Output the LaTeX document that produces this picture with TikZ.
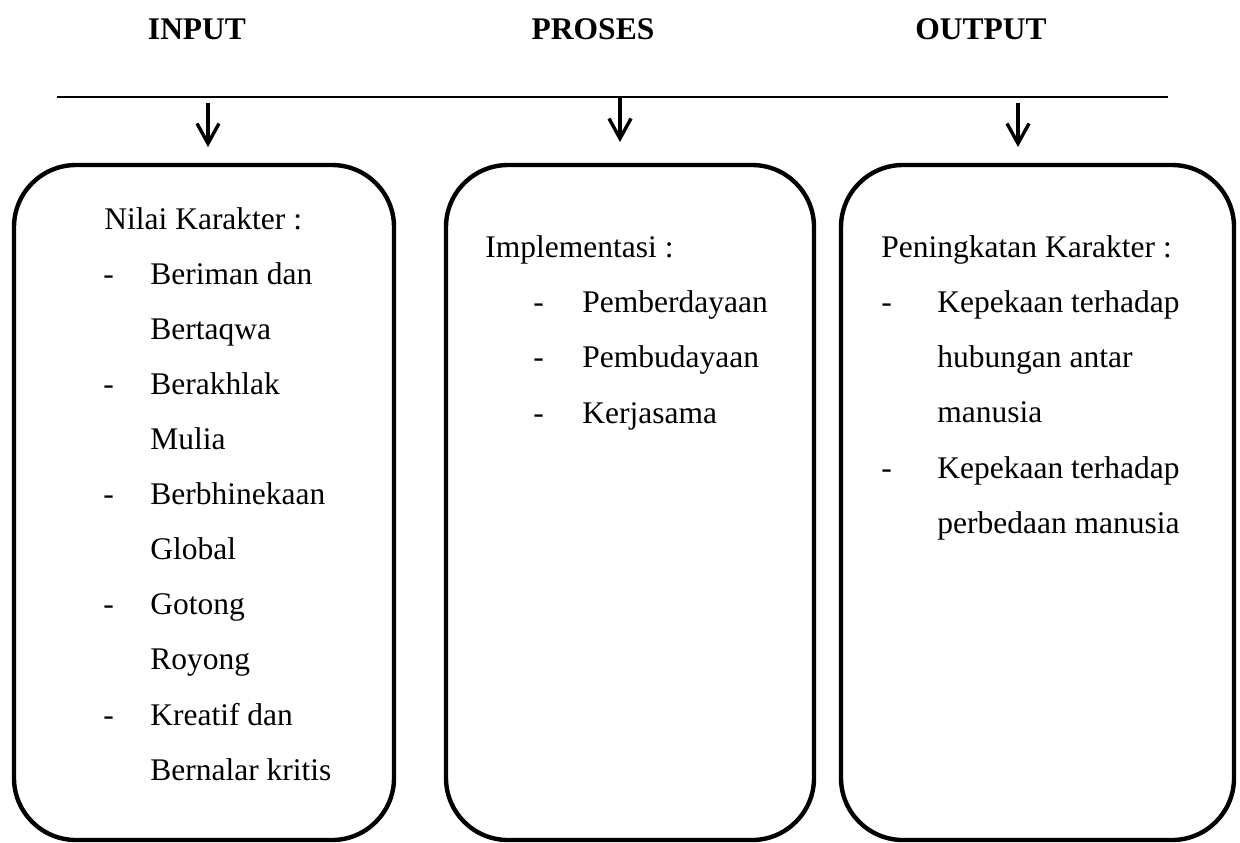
\documentclass[tikz,border=0pt]{standalone}
\usepackage{fontspec}
\setmainfont{Liberation Serif}
\usetikzlibrary{arrows.meta,fit}
\begin{document}
\begin{tikzpicture}[x=0.5pt,y=-0.5pt,
  box/.style={draw=black,line width=2.2pt,rounded corners=31pt,inner sep=0pt},
  hdr/.style={font=\fontsize{15.75}{18}\selectfont\bfseries,anchor=base,inner sep=0pt},
  txt/.style={font=\fontsize{15.75}{18}\selectfont,anchor=base west,inner sep=0pt},
  arr/.style={line width=1.7pt,-{Straight Barb[length=10pt,width=11pt,line width=1.7pt]}},
  rule/.style={line width=1.1pt}]
\useasboundingbox (0,0) rectangle (1240,842);
% headers
\node[hdr] (hin) at (197,39) {INPUT};
\node[hdr] (hpr) at (593,39) {PROSES};
\node[hdr] (hout) at (981,39) {OUTPUT};
% horizontal rule
\coordinate (rl) at (57,97);
\coordinate (rr) at (1168,97);
\draw[rule] (rl) -- (rr);
% arrows
\coordinate (a1s) at (208,103);
\coordinate (a1e) at (208,147);
\coordinate (a2s) at (620,97);
\coordinate (a2e) at (620,142);
\coordinate (a3s) at (1018,103);
\coordinate (a3e) at (1018,147);
\draw[arr] (a1s) -- (a1e);
\draw[arr] (a2s) -- (a2e);
\draw[arr] (a3s) -- (a3e);
% boxes
\node[box,fit={(14,165) (394,840)}] (inbox) {};
\node[box,fit={(446,165) (814,840)}] (prbox) {};
\node[box,fit={(841,165) (1234,840)}] (outbox) {};
% input text
\node[txt] (i0) at (104,229) {Nilai Karakter :};
\node[txt] (d1) at (103,284) {-};
\node[txt] (i1) at (150,284) {Beriman dan};
\node[txt] (i2) at (150,339) {Bertaqwa};
\node[txt] (d2) at (103,394) {-};
\node[txt] (i3) at (150,394) {Berakhlak};
\node[txt] (i4) at (150,449) {Mulia};
\node[txt] (d3) at (103,504) {-};
\node[txt] (i5) at (150,504) {Berbhinekaan};
\node[txt] (i6) at (150,559) {Global};
\node[txt] (d4) at (103,614) {-};
\node[txt] (i7) at (150,614) {Gotong};
\node[txt] (i8) at (150,669) {Royong};
\node[txt] (d5) at (103,725) {-};
\node[txt] (i9) at (150,725) {Kreatif dan};
\node[txt] (i10) at (150,780) {Bernalar kritis};
% process text
\node[txt] (p0) at (485,257) {Implementasi :};
\node[txt] (pd1) at (533,312) {-};
\node[txt] (p1) at (582,312) {Pemberdayaan};
\node[txt] (pd2) at (533,367) {-};
\node[txt] (p2) at (582,367) {Pembudayaan};
\node[txt] (pd3) at (533,423) {-};
\node[txt] (p3) at (582,423) {Kerjasama};
% output text
\node[txt] (o0) at (881,257) {Peningkatan Karakter :};
\node[txt] (od1) at (881,312) {-};
\node[txt] (o1) at (937,312) {Kepekaan terhadap};
\node[txt] (o2) at (937,367) {hubungan antar};
\node[txt] (o3) at (937,422) {manusia};
\node[txt] (od2) at (881,478) {-};
\node[txt] (o4) at (937,478) {Kepekaan terhadap};
\node[txt] (o5) at (937,533) {perbedaan manusia};
\end{tikzpicture}
\end{document}
